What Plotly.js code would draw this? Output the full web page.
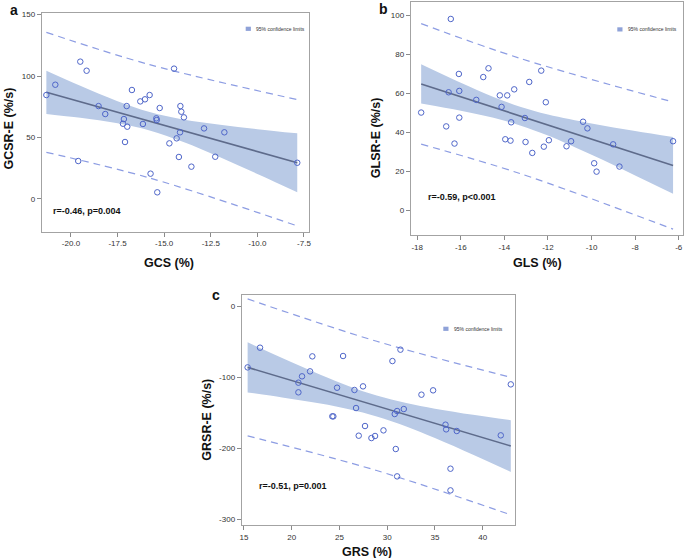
<!DOCTYPE html>
<html>
<head>
<meta charset="utf-8">
<script src="https://cdn.plot.ly/plotly-3.0.1.min.js"></script>
<style>html,body{margin:0;padding:0;background:#fff;}#chart{width:685px;height:558px;}</style>
</head>
<body>
<div id="chart"></div>
<script>
// ---------- Panel a: GCS vs GCSR-E ----------
const aX = [-21.32,-20.84,-19.50,-19.16,-19.61,-18.52,-18.16,-17.16,-17.21,-17.01,-16.98,-17.10,-16.73,-16.28,-16.03,-16.14,-15.78,-15.73,-15.24,-15.42,-15.40,-15.37,-14.72,-14.47,-14.33,-14.13,-14.08,-13.94,-14.15,-14.21,-13.54,-12.86,-12.26,-11.77,-7.86];
const aY = [84.5,92.9,111.7,104.3,30.7,75.5,69.0,64.9,61.1,75.5,58.7,46.2,88.6,79.3,81.0,60.9,84.5,20.4,73.9,65.5,64.1,5.2,45.1,106.0,49.2,75.5,70.9,66.3,54.1,34.0,26.1,57.3,34.2,54.1,29.3];
const aFitX = [-21.32,-7.86];
const aFitY = [86.7,29.29];
const aBandX = [-21.32,-19.5,-17.5,-15.78,-14,-12,-10,-7.86];
const aBandHi = [104.3,92.0,79.4,70.6,64.5,60.2,56.7,53.3];
const aBandLo = [69.1,65.9,61.4,55.6,46.4,33.8,20.2,5.3];
const aPredX = [-21.32,-15.78,-7.86];
const aPredHi = [135.6,109.3,80.8];
const aPredLo = [37.8,16.9,-22.2];
const aXTicks = [-20,-17.5,-15,-12.5,-10,-7.5];
const aXTickText = ['-20.0','-17.5','-15.0','-12.5','-10.0','-7.5'];
const aYTicks = [0,50,100,150];
const aYTickText = ['0','50','100','150'];

// ---------- Panel b: GLS vs GLSR-E ----------
const bX = [-17.82,-16.46,-16.67,-16.56,-16.29,-16.09,-16.07,-16.07,-15.29,-14.97,-14.73,-14.21,-14.13,-13.96,-13.87,-13.69,-13.72,-13.55,-13.06,-13.03,-12.86,-12.72,-12.31,-12.10,-12.19,-11.96,-11.15,-10.94,-10.39,-10.19,-9.88,-9.77,-9.01,-8.72,-6.26];
const bY = [50.3,98.3,43.2,60.7,34.4,70.1,61.4,47.7,56.8,68.5,73.0,59.1,53.2,36.6,59.1,45.3,35.9,62.2,47.5,35.2,66.0,29.6,71.8,55.6,32.8,36.1,33.0,35.6,45.6,42.2,24.3,20.0,34.0,22.6,35.6];
const bFitX = [-17.82,-6.26];
const bFitY = [65.0,23.1];
const bBandX = [-17.82,-16,-14.5,-13.28,-12,-10,-8,-6.26];
const bBandHi = [75.1,65.6,58.3,53.3,49.3,44.7,40.8,37.7];
const bBandLo = [54.9,51.2,47.6,43.7,38.5,28.6,18.0,8.6];
const bPredX = [-17.82,-13.28,-6.26];
const bPredHi = [95.9,78.1,55.7];
const bPredLo = [34.1,19.0,-9.5];
const bXTicks = [-18,-16,-14,-12,-10,-8,-6];
const bXTickText = ['-18','-16','-14','-12','-10','-8','-6'];
const bYTicks = [0,20,40,60,80,100];
const bYTickText = ['0','20','40','60','80','100'];

// ---------- Panel c: GRS vs GRSR-E ----------
const cX = [15.38,16.68,20.70,20.70,21.08,21.92,22.16,24.36,24.25,24.75,25.38,26.57,26.74,27.02,27.47,27.68,28.35,28.73,29.61,30.55,30.79,30.90,31.04,31.04,31.39,31.74,33.59,34.81,36.11,36.18,36.63,36.63,37.29,41.90,42.95];
const cY = [-86.3,-58.6,-107.8,-121.4,-98.9,-91.9,-70.8,-155.2,-155.2,-114.9,-70.3,-118.1,-143.5,-182.4,-113.0,-168.8,-185.7,-182.8,-174.9,-77.4,-151.9,-201.1,-147.7,-239.6,-61.4,-144.9,-124.7,-118.6,-166.9,-173.5,-228.8,-259.3,-175.8,-181.9,-110.2];
const cFitX = [15.38,42.95];
const cFitY = [-86.3,-196.9];
const cBandX = [15.38,19,23,26,28.9,32,35,39,42.95];
const cBandHi = [-51.1,-73.2,-96.6,-112.7,-125.8,-136.5,-144.4,-153.0,-160.6];
const cBandLo = [-121.5,-128.5,-137.2,-145.2,-155.3,-169.4,-185.6,-209.1,-233.3];
const cPredX = [15.38,28.9,42.95];
const cPredHi = [10.0,-49.6,-100.2];
const cPredLo = [-182.6,-231.4,-293.7];
const cXTicks = [15,20,25,30,35,40];
const cXTickText = ['15','20','25','30','35','40'];
const cYTicks = [-300,-200,-100,0];
const cYTickText = ['-300','-200','-100','0'];

const titles = {
  a: {x: 'GCS (%)', y: 'GCSR-E (%/s)', r: 'r=-0.46, p=0.004'},
  b: {x: 'GLS (%)', y: 'GLSR-E (%/s)', r: 'r=-0.59, p<0.001'},
  c: {x: 'GRS (%)', y: 'GRSR-E (%/s)', r: 'r=-0.51, p=0.001'}
};
const legendText = '95% confidence limits';

const FONT = 'Arial, "Liberation Sans", sans-serif';
const BAND = 'rgba(185,202,230,1)';
const FIT = '#5e6b8b';
const PRED = '#8d9de3';
const MARK = '#4f66c9';
const SWATCH = '#8fa2d8';

const W = 685, H = 558;
function px(x){return x/W;}
function py(y){return 1 - y/H;}

const panels = [
  {k:'a', xa:'x', ya:'y', X:aX, Y:aY, fx:aFitX, fy:aFitY, bx:aBandX, bh:aBandHi, bl:aBandLo, px_:aPredX, ph:aPredHi, pl:aPredLo,
   xt:aXTicks, xtt:aXTickText, yt:aYTicks, ytt:aYTickText, xr:[-21.57,-7.23], yr:[-26.9,151.6],
   box:[41.7,309,12.7,231.7], ytl:[8,128.5], xtl:[169,263], rl:[50.7,211], leg:[245.7,26.7], letter:[13.5,1]},
  {k:'b', xa:'x2', ya:'y2', X:bX, Y:bY, fx:bFitX, fy:bFitY, bx:bBandX, bh:bBandHi, bl:bBandLo, px_:bPredX, ph:bPredHi, pl:bPredLo,
   xt:bXTicks, xtt:bXTickText, yt:bYTicks, ytt:bYTickText, xr:[-18.30,-5.79], yr:[-12.5,107],
   box:[410.7,683.3,2,235], ytl:[376.7,137.5], xtl:[537,263], rl:[426,197.3], leg:[617.3,27.3], letter:[383,0]},
  {k:'c', xa:'x3', ya:'y3', X:cX, Y:cY, fx:cFitX, fy:cFitY, bx:cBandX, bh:cBandHi, bl:cBandLo, px_:cPredX, ph:cPredHi, pl:cPredLo,
   xt:cXTicks, xtt:cXTickText, yt:cYTicks, ytt:cYTickText, xr:[14.76,43.39], yr:[-308,15.5],
   box:[241.7,515,295,525], ytl:[206.7,420], xtl:[366.7,551.7], rl:[256.7,485.7], leg:[443.3,326.7], letter:[216,286]}
];

const traces = [];
const layout = {
  width: W, height: H,
  margin: {l:0, r:0, t:0, b:0},
  paper_bgcolor: '#fff', plot_bgcolor: '#fff',
  showlegend: false,
  font: {family: FONT, color: '#222'},
  annotations: [], shapes: []
};

panels.forEach(p => {
  const common = {xaxis: p.xa, yaxis: p.ya, hoverinfo: 'skip', showlegend: false};
  traces.push(Object.assign({x: p.bx, y: p.bl, mode: 'lines', line: {width: 0, shape: 'spline', color: BAND}, type: 'scatter'}, common));
  traces.push(Object.assign({x: p.bx, y: p.bh, mode: 'lines', fill: 'tonexty', fillcolor: BAND, line: {width: 0, shape: 'spline', color: BAND}, type: 'scatter'}, common));
  traces.push(Object.assign({x: p.px_, y: p.ph, mode: 'lines', line: {width: 1.2, dash: '7px,5px', shape: 'spline', color: PRED}, type: 'scatter'}, common));
  traces.push(Object.assign({x: p.px_, y: p.pl, mode: 'lines', line: {width: 1.2, dash: '7px,5px', shape: 'spline', color: PRED}, type: 'scatter'}, common));
  traces.push(Object.assign({x: p.fx, y: p.fy, mode: 'lines', line: {width: 1.6, color: FIT}, type: 'scatter'}, common));
  traces.push(Object.assign({x: p.X, y: p.Y, mode: 'markers', marker: {symbol: 'circle-open', size: 5.5, color: MARK, line: {width: 1, color: MARK}}, type: 'scatter'}, common));

  const xKey = p.xa === 'x' ? 'xaxis' : 'xaxis' + p.xa.slice(1);
  const yKey = p.ya === 'y' ? 'yaxis' : 'yaxis' + p.ya.slice(1);
  const axCommon = {showgrid: false, zeroline: false, showline: true, mirror: true, linecolor: '#a3a3a3', linewidth: 1,
    ticks: 'outside', ticklen: 4, tickcolor: '#8a8a8a', tickwidth: 1, tickfont: {family: FONT, size: 8, color: '#333'}, fixedrange: true};
  layout[xKey] = Object.assign({}, axCommon, {domain: [px(p.box[0]), px(p.box[1])], range: p.xr, tickmode: 'array', tickvals: p.xt, ticktext: p.xtt, anchor: p.ya});
  layout[yKey] = Object.assign({}, axCommon, {domain: [py(p.box[3]), py(p.box[2])], range: p.yr, tickmode: 'array', tickvals: p.yt, ticktext: p.ytt, anchor: p.xa});

  const t = titles[p.k];
  layout.annotations.push({xref: 'paper', yref: 'paper', x: px(p.xtl[0]), y: py(p.xtl[1]), text: '<b>' + t.x + '</b>', showarrow: false, xanchor: 'center', yanchor: 'middle', font: {family: FONT, size: 12.5, color: '#111'}});
  layout.annotations.push({xref: 'paper', yref: 'paper', x: px(p.ytl[0]), y: py(p.ytl[1]), text: '<b>' + t.y + '</b>', showarrow: false, textangle: -90, xanchor: 'center', yanchor: 'middle', font: {family: FONT, size: 12.5, color: '#111'}});
  layout.annotations.push({xref: 'paper', yref: 'paper', x: px(p.rl[0]), y: py(p.rl[1]), text: '<b>' + t.r + '</b>', showarrow: false, xanchor: 'left', yanchor: 'middle', font: {family: FONT, size: 9, color: '#111'}});
  layout.annotations.push({xref: 'paper', yref: 'paper', x: px(p.letter[0]), y: py(p.letter[1]), text: '<b>' + p.k + '</b>', showarrow: false, xanchor: 'center', yanchor: 'top', borderpad: 0, font: {family: FONT, size: 14, color: '#111'}});
  // legend swatch + text
  layout.shapes.push({type: 'rect', xref: 'paper', yref: 'paper', x0: px(p.leg[0]), x1: px(p.leg[0] + 5.2), y0: py(p.leg[1]), y1: py(p.leg[1] + 4.2), fillcolor: SWATCH, line: {width: 0}});
  layout.annotations.push({xref: 'paper', yref: 'paper', x: px(p.leg[0] + 8.3), y: py(p.leg[1] + 2.1), text: legendText, showarrow: false, xanchor: 'left', yanchor: 'middle', font: {family: FONT, size: 5, color: '#333'}});
});

Plotly.newPlot('chart', traces, layout, {staticPlot: true, displayModeBar: false});
</script>
</body>
</html>
